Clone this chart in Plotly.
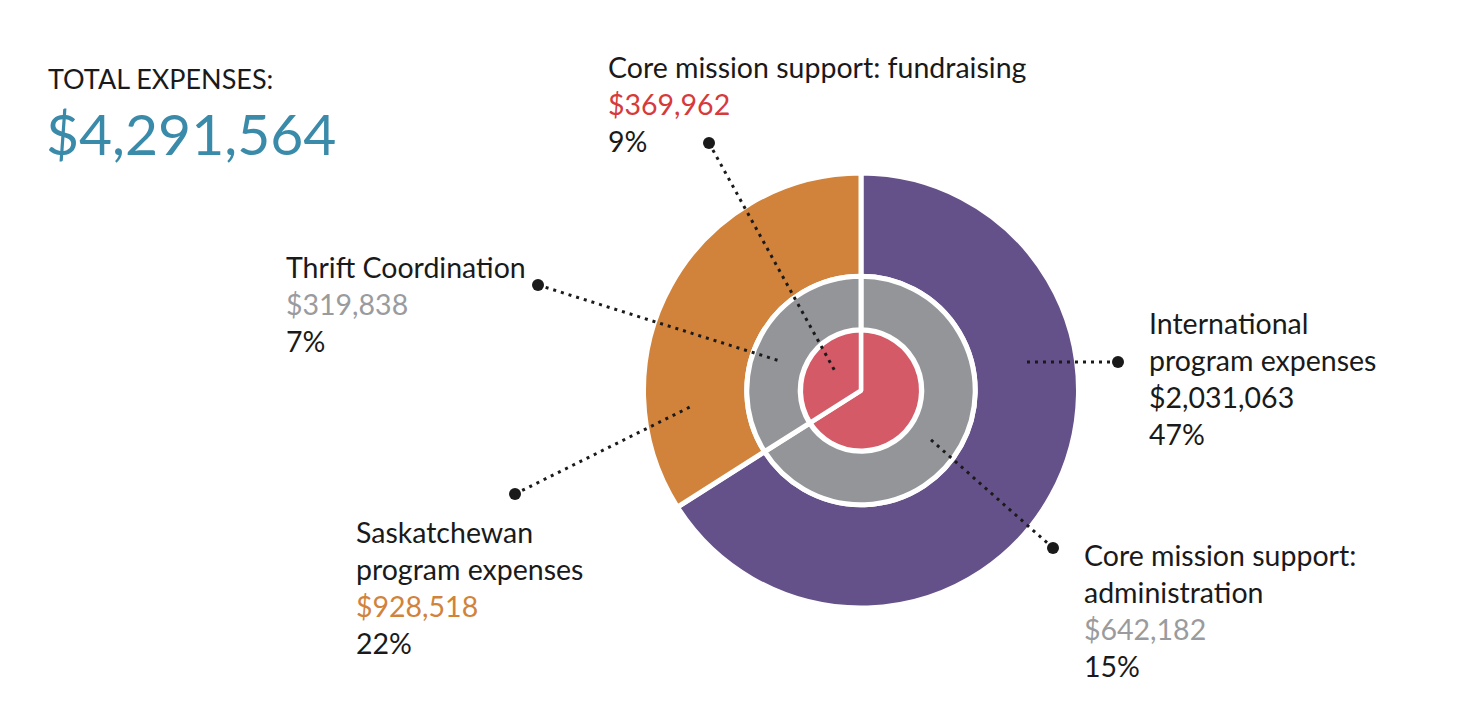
import plotly.graph_objects as go

W, H = 1460, 722

# ---- data ----
categories = ["International program expenses", "Saskatchewan program expenses",
              "Core mission support: administration", "Thrift Coordination",
              "Core mission support: fundraising"]
amounts = ["$2,031,063", "$928,518", "$642,182", "$319,838", "$369,962"]
percents = ["47%", "22%", "15%", "7%", "9%"]
total_label = "TOTAL EXPENSES:"
total_value = "$4,291,564"
# arc shares of each ring as drawn
outer_ring = [66, 34]      # International, Saskatchewan
middle_ring = [66, 34]     # administration, thrift
inner_ring = [66, 34]      # fundraising (single colour, split line)

# ---- styles ----
PURPLE = "#655189"
ORANGE = "#D1833B"
GRAY = "#939598"
RED = "#D45A67"
BLUE = "#3A8AAA"
TXT_RED = "#D63A3A"
TXT_GRAY = "#9A9B9E"
BLACK = "#1a1a1a"
FONT = "Lato"
FS = 28.5

CX, CY = 861, 390.5
R_OUT, R_MID, R_IN = 217.5, 114.2, 60.2
H_MID = 60.8


def dom(r):
    return dict(x=[(CX - r) / W, (CX + r) / W],
                y=[1 - (CY + r) / H, 1 - (CY - r) / H])


fig = go.Figure()
common = dict(sort=False, direction="clockwise", rotation=0, textinfo="none",
              hoverinfo="skip", showlegend=False)
fig.add_trace(go.Pie(values=outer_ring, labels=categories[:2], hole=114.2 / R_OUT,
                     marker=dict(colors=[PURPLE, ORANGE], line=dict(color="white", width=5)),
                     domain=dom(R_OUT), **common))
fig.add_trace(go.Pie(values=middle_ring, labels=categories[2:4], hole=H_MID / R_MID,
                     marker=dict(colors=[GRAY, GRAY], line=dict(color="white", width=5)),
                     domain=dom(R_MID), **common))
fig.add_trace(go.Pie(values=inner_ring, labels=[categories[4], categories[4] + " "], hole=0,
                     marker=dict(colors=[RED, RED], line=dict(color="white", width=4.5)),
                     domain=dom(R_IN), **common))


def px(x):
    return x / W


def py(y):
    return 1 - y / H


shapes = []
# leader lines: (dot end x, y) -> (inner end x, y)
leaders = [
    ((709, 143), (836, 373)),
    ((538, 285), (780, 361)),
    ((515, 494), (690, 407)),
    ((1118, 362), (1022, 362)),
    ((1053, 548), (930, 439)),
]
for (x0, y0), (x1, y1) in leaders:
    shapes.append(dict(type="line", xref="paper", yref="paper",
                       x0=px(x0), y0=py(y0), x1=px(x1), y1=py(y1),
                       line=dict(color=BLACK, width=3, dash="3px,5px")))
    rr = 6
    shapes.append(dict(type="circle", xref="paper", yref="paper",
                       x0=px(x0 - rr), x1=px(x0 + rr), y0=py(y0 + rr), y1=py(y0 - rr),
                       fillcolor=BLACK, line=dict(width=0)))

ASC = 28  # offset from first baseline to annotation top (at size 28)


def block(x, baseline, text, size=FS):
    return dict(xref="paper", yref="paper", x=px(x), y=py(baseline - ASC * size / 28),
                xanchor="left", yanchor="top", align="left", showarrow=False,
                text=text, font=dict(family=FONT, size=size, color=BLACK), borderpad=0)


def col(t, c):
    return f"<span style='color:{c}'>{t}</span>"


annotations = [
    block(47, 88, total_label, 27),
    block(45, 155, col(total_value, BLUE), 57),
    block(607, 77, "Core mission support: fundraising<br>" + col(amounts[4], TXT_RED) + "<br>" + percents[4]),
    block(285, 277, "Thrift Coordination<br>" + col(amounts[3], TXT_GRAY) + "<br>" + percents[3]),
    block(355, 542, "Saskatchewan<br>program expenses<br>" + col(amounts[1], ORANGE) + "<br>" + percents[1]),
    block(1083, 565, "Core mission support:<br>administration<br>" + col(amounts[2], TXT_GRAY) + "<br>" + percents[2]),
    block(1148, 333, "International<br>program expenses<br>" + amounts[0] + "<br>" + percents[0]),
]

fig.update_layout(width=W, height=H, margin=dict(l=0, r=0, t=0, b=0),
                  paper_bgcolor="white", plot_bgcolor="white",
                  shapes=shapes, annotations=annotations, showlegend=False)
fig.write_html("out.html")
